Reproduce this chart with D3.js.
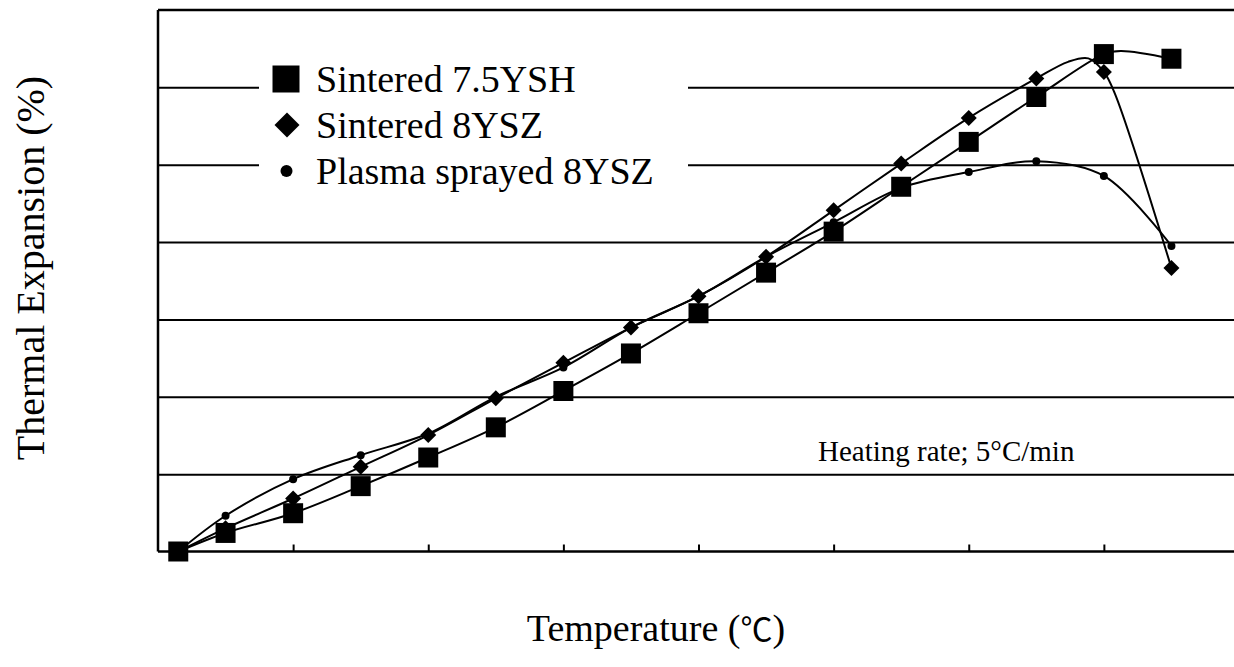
<!DOCTYPE html>
<html lang="en">
<head>
  <meta charset="UTF-8">
  <title>Thermal Expansion</title>
  <style>
    body { margin: 0; background: white; }
    text { font-family: "Times New Roman", "Liberation Serif", serif; fill: black; }
  </style>
</head>
<body>
  <div id="my_dataviz"></div>

<script src="https://d3js.org/d3.v7.min.js"></script>
<script>

    // temperatures (°C) of the measured points
    var temps = [30, 100, 200, 300, 400, 500, 600, 700, 800, 900, 1000, 1100, 1200, 1300, 1400, 1500];

    // thermal expansion (%) for each series
    var ysh75  = [0, 0.048, 0.099, 0.169, 0.243, 0.321, 0.415, 0.512, 0.616, 0.721, 0.827, 0.943, 1.059, 1.175, 1.286, 1.274];
    var ysz8   = [0, 0.060, 0.137, 0.219, 0.301, 0.396, 0.488, 0.579, 0.660, 0.762, 0.882, 1.003, 1.121, 1.223, 1.240, 0.733];
    var plasma = [0, 0.0925, 0.187, 0.249, 0.305, 0.400, 0.476, 0.579, 0.660, 0.762, 0.851, 0.940, 0.981, 1.009, 0.971, 0.790];

    // line-only points, the curves bend between markers near the top
    var ysh75ExtraT = [1425];
    var ysh75ExtraV = [1.294];
    var ysz8ExtraT = [1347, 1377, 1416];
    var ysz8ExtraV = [1.266, 1.275, 1.185];

    var xTicks = [200, 400, 600, 800, 1000, 1200, 1400];
    var yGrid = [0.2, 0.4, 0.6, 0.8, 1.0, 1.2];

    var legendNames = ["Sintered 7.5YSH", "Sintered 8YSZ", "Plasma sprayed 8YSZ"];

    var width = 1234, height = 667;
    var plotLeft = 158, plotTop = 10, plotBottom = 551.5;

    var svg = d3.select("#my_dataviz")
      .append("svg")
        .attr("width", width)
        .attr("height", height)
        .style("display", "block");

    svg.append("rect")
      .attr("width", width)
      .attr("height", height)
      .attr("fill", "white");

    var x = d3.scaleLinear().domain([0, 1600]).range([plotLeft, 1239]);
    var y = d3.scaleLinear().domain([0, 1.4]).range([plotBottom, plotTop]);

    // horizontal gridlines
    svg.append("g")
      .attr("transform", "translate(" + plotLeft + ",0)")
      .call(d3.axisLeft(y).tickValues(yGrid).tickSize(-(width - plotLeft)).tickFormat(""))
      .call(function(g) { g.select(".domain").remove(); })
      .selectAll("line")
        .attr("stroke", "black")
        .attr("stroke-width", 2);

    // top border
    svg.append("line")
      .attr("x1", plotLeft).attr("x2", width)
      .attr("y1", y(1.4)).attr("y2", y(1.4))
      .attr("stroke", "black")
      .attr("stroke-width", 2.5);

    // x axis, ticks pointing up, no labels
    var xAxis = svg.append("g")
      .attr("transform", "translate(0," + plotBottom + ")")
      .call(d3.axisBottom(x).tickValues(xTicks).tickSize(-7).tickSizeOuter(0).tickFormat(""));
    xAxis.select(".domain").remove();
    xAxis.selectAll("line").attr("stroke", "black").attr("stroke-width", 2);
    svg.append("line")
      .attr("x1", plotLeft).attr("x2", width)
      .attr("y1", plotBottom).attr("y2", plotBottom)
      .attr("stroke", "black")
      .attr("stroke-width", 2.5);

    // y axis line
    svg.append("line")
      .attr("x1", plotLeft).attr("x2", plotLeft)
      .attr("y1", plotTop).attr("y2", plotBottom)
      .attr("stroke", "black")
      .attr("stroke-width", 2.5);

    function points(vals, extraT, extraV) {
      var pts = temps.map(function(t, i) { return [t, vals[i]]; });
      (extraT || []).forEach(function(t, i) { pts.push([t, extraV[i]]); });
      return pts.sort(function(a, b) { return a[0] - b[0]; });
    }

    var line = d3.line()
      .x(function(d) { return x(d[0]); })
      .y(function(d) { return y(d[1]); })
      .curve(d3.curveCatmullRom.alpha(0.5));

    var series = [
      points(ysh75, ysh75ExtraT, ysh75ExtraV),
      points(ysz8, ysz8ExtraT, ysz8ExtraV),
      points(plasma)
    ];

    series.forEach(function(pts) {
      svg.append("path")
        .attr("d", line(pts))
        .attr("fill", "none")
        .attr("stroke", "black")
        .attr("stroke-width", 2);
    });

    // markers
    var square = d3.symbol(d3.symbolSquare, 400);
    var diamond = d3.symbol(d3.symbolSquare, 128);

    svg.selectAll(".sq")
      .data(ysh75)
      .enter()
      .append("path")
        .attr("d", square)
        .attr("transform", function(d, i) { return "translate(" + x(temps[i]) + "," + y(d) + ")"; })
        .attr("fill", "black");

    svg.selectAll(".dm")
      .data(ysz8)
      .enter()
      .append("path")
        .attr("d", diamond)
        .attr("transform", function(d, i) { return "translate(" + x(temps[i]) + "," + y(d) + ") rotate(45)"; })
        .attr("fill", "black");

    svg.selectAll(".dot")
      .data(plasma)
      .enter()
      .append("circle")
        .attr("cx", function(d, i) { return x(temps[i]); })
        .attr("cy", function(d) { return y(d); })
        .attr("r", 4)
        .attr("fill", "black");

    // legend, white box hides the gridlines behind it
    svg.append("rect")
      .attr("x", 259).attr("y", 45)
      .attr("width", 429).attr("height", 160)
      .attr("fill", "white");

    var legendY = [79, 125, 171];
    svg.append("path")
      .attr("d", d3.symbol(d3.symbolSquare, 729))
      .attr("transform", "translate(286," + legendY[0] + ")");
    svg.append("path")
      .attr("d", d3.symbol(d3.symbolSquare, 312))
      .attr("transform", "translate(287," + legendY[1] + ") rotate(45)");
    svg.append("circle")
      .attr("cx", 286.5).attr("cy", legendY[2]).attr("r", 6);

    svg.selectAll(".legtext")
      .data(legendNames)
      .enter()
      .append("text")
        .attr("x", 316)
        .attr("y", function(d, i) { return legendY[i] + 13; })
        .attr("font-size", "38px")
        .text(function(d) { return d; });

    svg.append("text")
      .attr("x", 818)
      .attr("y", 461)
      .attr("font-size", "29px")
      .text("Heating rate; 5°C/min");

    // axis titles
    var xt = svg.append("text")
      .attr("x", 656)
      .attr("y", 641)
      .attr("text-anchor", "middle")
      .attr("font-size", "38px");
    xt.append("tspan").text("Temperature (");
    xt.append("tspan").style("font-family", "'Noto Sans CJK JP', 'DejaVu Sans', sans-serif").attr("font-size", "32px").text("℃");
    xt.append("tspan").text(")");

    svg.append("text")
      .attr("transform", "translate(44,268) rotate(-90)")
      .attr("text-anchor", "middle")
      .attr("font-size", "40px")
      .text("Thermal Expansion (%)");

</script>
</body>
</html>
